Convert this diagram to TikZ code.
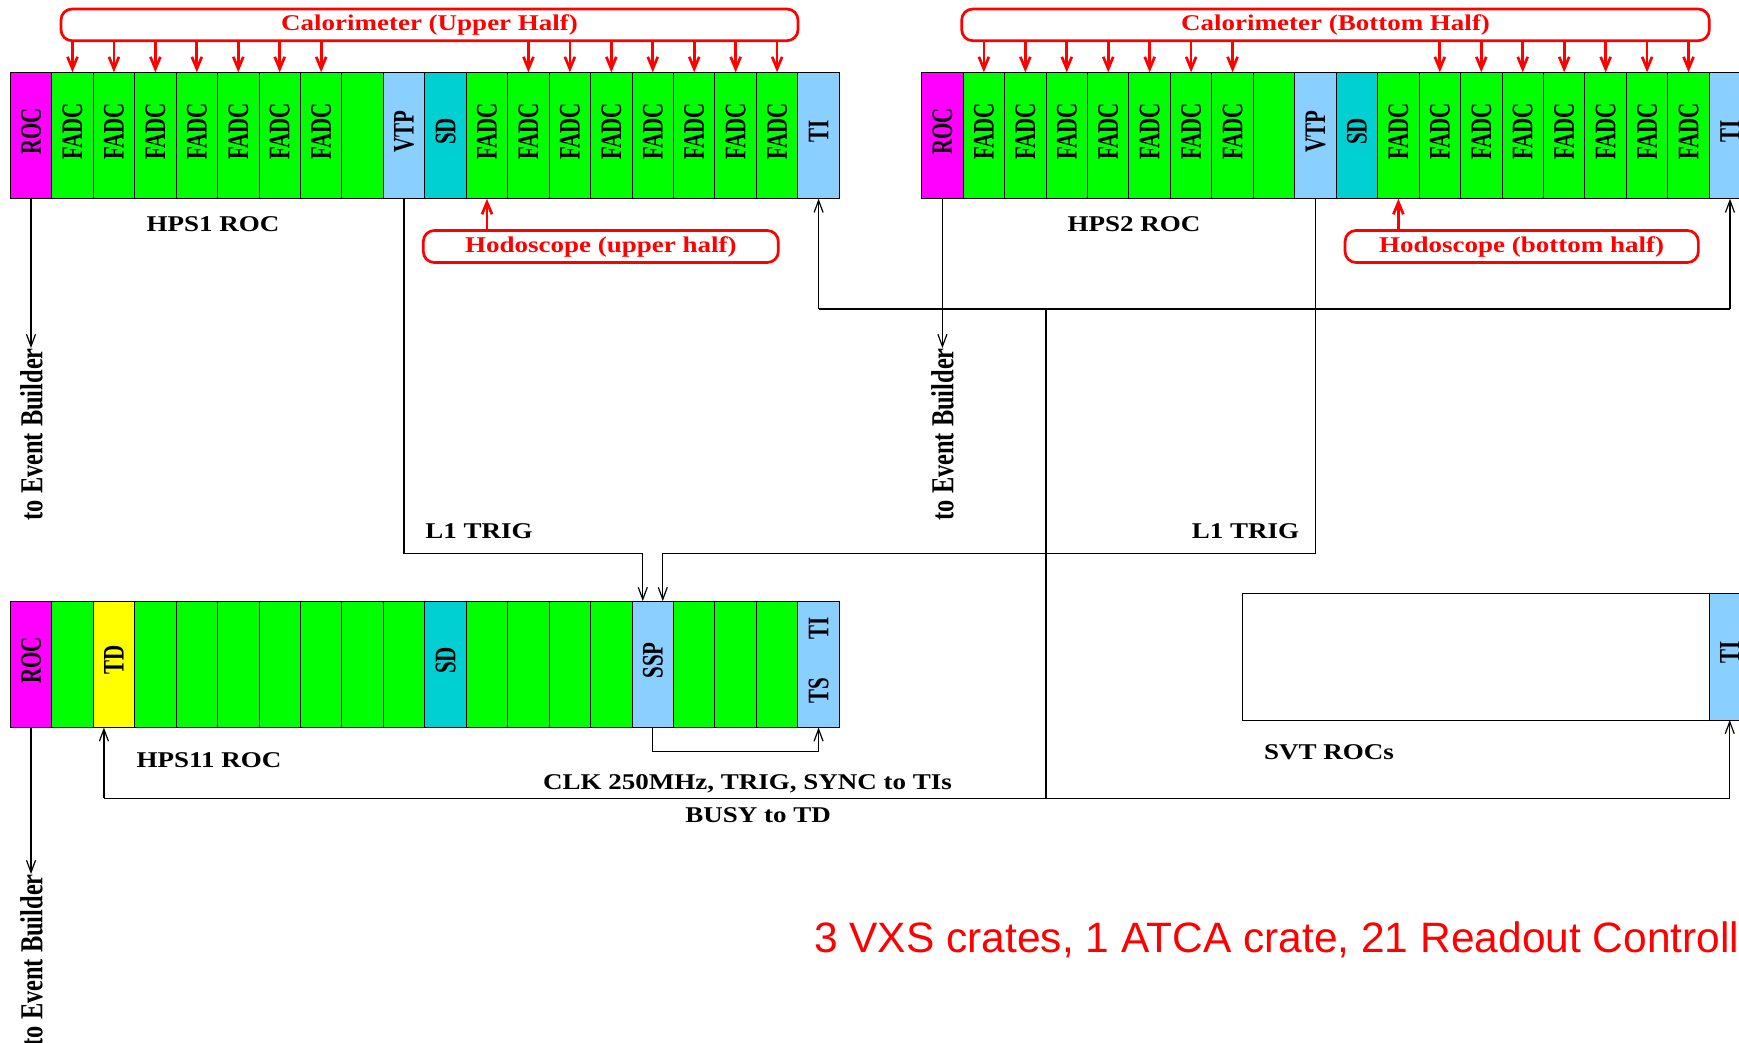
\documentclass[tikz,border=0pt]{standalone}
\usepackage{graphicx}
\usepackage{fontspec}
\setmainfont{Liberation Serif}
\newfontfamily\arialf{Liberation Sans}
\usetikzlibrary{arrows.meta,calc}
\definecolor{rocmag}{RGB}{255,0,255}
\definecolor{fadcgreen}{RGB}{0,255,0}
\definecolor{tiblue}{RGB}{137,207,255}
\definecolor{sdcyan}{RGB}{0,208,210}
\definecolor{tdyellow}{RGB}{255,255,0}
\newcommand\vlab[1]{\rotatebox{90}{\hspace{8pt}\fontsize{21}{22}\selectfont\bfseries\scalebox{1}[1.42]{#1}}}
\newcommand\hlab[1]{\scalebox{1.2}[1]{#1}}
\tikzset{
  slotbox/.style={draw=black, line width=1pt, minimum width=41.45pt, minimum height=126.5pt, inner sep=0pt, outer sep=0pt, anchor=north west},
  roc/.style={fill=rocmag}, fadc/.style={fill=fadcgreen}, blu/.style={fill=tiblue},
  sdc/.style={fill=sdcyan}, tdc/.style={fill=tdyellow},
  conn/.style={line width=1.2pt, draw=black},
  carrow/.style={conn, -{Straight Barb[length=12pt,width=9pt]}},
  redbox/.style={draw=red, line width=2.7pt, rounded corners=11pt, inner sep=0pt, outer sep=0pt, text=red, font=\fontsize{22.5}{24}\selectfont\bfseries},
  rarrow/.style={draw=red, line width=2.7pt, -{Straight Barb[length=12pt,width=10pt]}},
  lab/.style={inner sep=0pt, font=\fontsize{22.5}{24}\selectfont\bfseries},
  eblab/.style={inner sep=0pt, anchor=north}
}
\begin{document}
\begin{tikzpicture}[x=1pt,y=-1pt]
\useasboundingbox (0,0) rectangle (1739,1042);
\clip (0,0) rectangle (1739,1042);
\fill[white] (0,0) rectangle (1739,1042);
% ---------- HPS1 crate ----------
\node[slotbox,roc] (a0) at (10.3,72.3) {\vlab{ROC}};
\foreach \k in {1,...,7,11,12,...,18}
  \node[slotbox,fadc] (a\k) at ({10.3+\k*41.45},72.3) {\vlab{FADC}};
\node[slotbox,fadc] (a8) at ({10.3+8*41.45},72.3) {};
\node[slotbox,blu] (a9) at ({10.3+9*41.45},72.3) {\vlab{VTP}};
\node[slotbox,sdc] (a10) at ({10.3+10*41.45},72.3) {\vlab{SD}};
\node[slotbox,blu] (a19) at ({10.3+19*41.45},72.3) {\vlab{TI}};
% ---------- HPS2 crate ----------
\node[slotbox,roc] (b0) at (921.7,72.3) {\vlab{ROC}};
\foreach \k in {1,...,7,11,12,...,18}
  \node[slotbox,fadc] (b\k) at ({921.7+\k*41.45},72.3) {\vlab{FADC}};
\node[slotbox,fadc] (b8) at ({921.7+8*41.45},72.3) {};
\node[slotbox,blu] (b9) at ({921.7+9*41.45},72.3) {\vlab{VTP}};
\node[slotbox,sdc] (b10) at ({921.7+10*41.45},72.3) {\vlab{SD}};
\node[slotbox,blu] (b19) at ({921.7+19*41.45},72.3) {\vlab{TI}};
% ---------- HPS11 crate ----------
\node[slotbox,roc] (c0) at (10.3,601) {\vlab{ROC}};
\foreach \k in {1,3,4,...,9,11,12,13,14,16,17,18}
  \node[slotbox,fadc] (c\k) at ({10.3+\k*41.45},601) {};
\node[slotbox,tdc] (c2) at ({10.3+2*41.45},601) {\vlab{TD}};
\node[slotbox,sdc] (c10) at ({10.3+10*41.45},601) {\vlab{SD}};
\node[slotbox,blu] (c15) at ({10.3+15*41.45},601) {\vlab{SSP}};
\node[slotbox,blu] (c19) at ({10.3+19*41.45},601) {\rotatebox{90}{\hspace{8pt}\fontsize{21}{22}\selectfont\bfseries\scalebox{1}[1.42]{TS\hspace{38pt}TI}}};
% ---------- SVT ----------
\node[draw=black, line width=1pt, minimum width=467pt, minimum height=126.5pt, inner sep=0pt, outer sep=0pt, anchor=north west] (svt) at (1242,593.5) {};
\node[slotbox,blu] (svtti) at (1709,593.5) {\vlab{TI}};
% ---------- red brackets ----------
\node[redbox, minimum width=737pt, minimum height=31.7pt] (calU) at (429.5,24.85) {\raisebox{-2.5pt}{\hlab{Calorimeter (Upper Half)}}};
\node[redbox, minimum width=747.6pt, minimum height=31.7pt] (calB) at (1335.5,24.85) {\raisebox{-2.5pt}{\hlab{Calorimeter (Bottom Half)}}};
\node[redbox, minimum width=355pt, minimum height=32pt] (hodU) at (600.8,246.5) {\raisebox{-1pt}{\hlab{Hodoscope (upper half)}}};
\node[redbox, minimum width=353.3pt, minimum height=32pt] (hodB) at (1521.7,246.5) {\raisebox{-1pt}{\hlab{Hodoscope (bottom half)}}};
\foreach \k in {1,...,7,12,13,...,18} {
  \draw[rarrow] (a\k.north |- calU.south) -- (a\k.north);
  \draw[rarrow] (b\k.north |- calB.south) -- (b\k.north);
}
\draw[rarrow] (a11.south |- hodU.north) -- (a11.south);
\draw[rarrow] (b11.south |- hodB.north) -- (b11.south);
% ---------- labels ----------
\node[lab] (l1) at (213,224) {\hlab{HPS1 ROC}};
\node[lab] (l2) at (1134,224) {\hlab{HPS2 ROC}};
\node[lab] (l3) at (209,760) {\hlab{HPS11 ROC}};
\node[lab] (l4) at (1329,752.5) {\hlab{SVT ROCs}};
\node[lab] (trA) at (479,531) {\hlab{L1 TRIG}};
\node[lab] (trB) at (1245.5,531) {\hlab{L1 TRIG}};
\node[lab] (clk) at (747.5,784) {\hlab{CLK 250MHz, TRIG, SYNC to TIs}};
\node[lab] (busy) at (758,815) {\hlab{BUSY to TD}};
\node[inner sep=0pt, anchor=base west, text=red, font=\arialf\fontsize{42.5}{48}\selectfont] (sum) at (814,952.3) {3 VXS crates, 1 ATCA crate, 21 Readout Controllers};
% ---------- to event builder ----------
\node[eblab] (ebA) at (31.5,348) {\rotatebox{90}{\fontsize{24.4}{26}\selectfont\bfseries\scalebox{1}[1.31]{to Event Builder}}};
\node[eblab] (ebB) at (942.4,348) {\rotatebox{90}{\fontsize{24.4}{26}\selectfont\bfseries\scalebox{1}[1.31]{to Event Builder}}};
\node[eblab] (ebC) at (31.5,874) {\rotatebox{90}{\fontsize{24.4}{26}\selectfont\bfseries\scalebox{1}[1.31]{to Event Builder}}};
\draw[carrow] (a0.south) -- (a0.south |- ebA.north);
\draw[carrow] (b0.south) -- (b0.south |- ebB.north);
\draw[carrow] (c0.south) -- (c0.south |- ebC.north);
% ---------- connectors ----------
\coordinate (tibus) at (1046,309);
\coordinate (clkbus) at (1046,798.3);
\coordinate (trigbus) at (0,553.3);
\coordinate (sspbus) at (0,751.7);
\coordinate (tdin) at ([xshift=-10pt]c2.south);
\coordinate (sspinL) at ([xshift=-10pt]c15.north);
\coordinate (sspinR) at ([xshift=10pt]c15.north);
\draw[carrow] (tibus -| a19.south) -- (a19.south);
\draw[conn] (tibus -| a19.south) -- (tibus -| b19.south);
\draw[carrow] (tibus -| b19.south) -- (b19.south);
\draw[conn] (tibus) -- (clkbus);
\draw[conn] (clkbus -| tdin) -- (clkbus -| svtti.south);
\draw[carrow] (clkbus -| tdin) -- (tdin);
\draw[carrow] (clkbus -| svtti.south) -- (svtti.south);
\draw[carrow] (a9.south) |- (trigbus -| sspinL) -- (sspinL);
\draw[carrow] (b9.south) |- (trigbus -| sspinR) -- (sspinR);
\draw[carrow] (c15.south) |- (sspbus -| c19.south) -- (c19.south);
\end{tikzpicture}
\end{document}
